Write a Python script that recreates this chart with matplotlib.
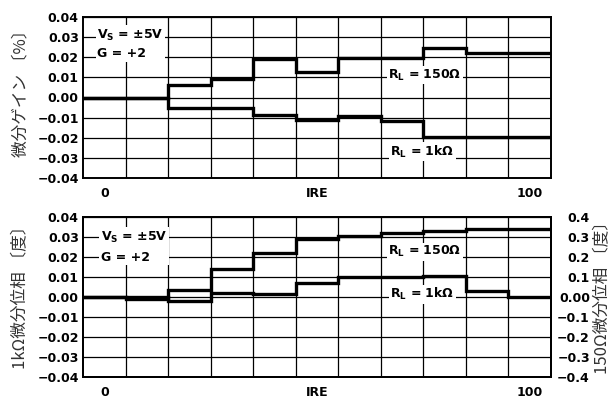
import matplotlib
matplotlib.use("Agg")
import matplotlib.pyplot as plt
from matplotlib.ticker import FixedLocator

# staircase levels (IRE), one step per level
IRE_LEVELS = [0, 10, 20, 30, 40, 50, 60, 70, 80, 90, 100]

# differential gain [%]
GAIN_150 = [0.0, 0.0, 0.0063, 0.009, 0.019, 0.0128, 0.0198, 0.0198, 0.0248, 0.0223, 0.0223]
GAIN_1K = [0.0, 0.0, -0.005, -0.005, -0.0085, -0.011, -0.0092, -0.0115, -0.0195, -0.0197, -0.0197]

# differential phase [deg]: 1kΩ on the left scale, 150Ω on the right scale
PHASE_1K = [0.0, 0.0, -0.002, 0.002, 0.0013, 0.007, 0.0097, 0.0097, 0.0103, 0.003, 0.0]
PHASE_150 = [0.0, -0.01, 0.035, 0.138, 0.217, 0.29, 0.305, 0.32, 0.33, 0.34, 0.34]

LEFT_TICKS = [-0.04, -0.03, -0.02, -0.01, 0.0, 0.01, 0.02, 0.03, 0.04]
LEFT_LABELS = ["−0.04", "−0.03", "−0.02", "−0.01", "0.00", "0.01", "0.02", "0.03", "0.04"]
RIGHT_TICKS = [-0.4, -0.3, -0.2, -0.1, 0.0, 0.1, 0.2, 0.3, 0.4]
RIGHT_LABELS = ["−0.4", "−0.3", "−0.2", "−0.1", "0.00", "0.1", "0.2", "0.3", "0.4"]
X_TICKS = [0, 50, 100]
X_LABELS = ["0", "IRE", "100"]

COND_TEXT = "V$_\\mathbf{S}$ = ±5V\nG = +2"
LABEL_150 = "R$_\\mathbf{L}$ = 150Ω"
LABEL_1K = "R$_\\mathbf{L}$ = 1kΩ"

plt.rcParams["font.family"] = ["DejaVu Sans"]
plt.rcParams["font.weight"] = "bold"
plt.rcParams["mathtext.fontset"] = "dejavusans"

JP = dict(fontfamily=["Noto Sans CJK JP", "DejaVu Sans"], fontsize=12,
          fontweight="normal", color="#333333")
BOX = dict(facecolor="white", edgecolor="none", pad=1.0)

half = (IRE_LEVELS[1] - IRE_LEVELS[0]) / 2
edges = [v - half for v in IRE_LEVELS] + [IRE_LEVELS[-1] + half]


def setup(ax):
    ax.set_xlim(edges[0], edges[-1])
    ax.set_ylim(LEFT_TICKS[0], LEFT_TICKS[-1])
    ax.xaxis.set_minor_locator(FixedLocator(edges[1:-1]))
    ax.set_xticks(X_TICKS, X_LABELS)
    ax.set_yticks(LEFT_TICKS, LEFT_LABELS)
    ax.grid(True, which="minor", axis="x", color="black", lw=0.9)
    ax.grid(True, which="major", axis="y", color="black", lw=0.9)
    ax.tick_params(which="both", length=0, labelsize=9)
    ax.tick_params(axis="x", pad=6.5)
    ax.tick_params(axis="y", pad=3)
    ax.set_axisbelow(True)
    for s in ax.spines.values():
        s.set_linewidth(1.4)


fig = plt.figure(figsize=(6.15, 4.01), dpi=100)
ax_gain = fig.add_axes([83 / 615, 1 - 178 / 401, 468 / 615, 161 / 401])
ax_phase = fig.add_axes([83 / 615, 1 - 376.7 / 401, 468 / 615, 160 / 401])

# differential gain
setup(ax_gain)
ax_gain.stairs(GAIN_150, edges, baseline=None, color="black", lw=2.4)
ax_gain.stairs(GAIN_1K, edges, baseline=None, color="black", lw=2.4)
ax_gain.set_ylabel("微分ゲイン 〔%〕", **JP)
ax_gain.yaxis.set_label_coords(-0.115, 0.55)
ax_gain.text(-1.7, 0.0266, COND_TEXT, ha="left", va="center", fontsize=9,
             linespacing=1.45, bbox=BOX)
ax_gain.text(66.7, 0.0112, LABEL_150, ha="left", va="center", fontsize=9, bbox=BOX)
ax_gain.text(67.2, -0.0269, LABEL_1K, ha="left", va="center", fontsize=9, bbox=BOX)

# differential phase
setup(ax_phase)
ax_phase.stairs(PHASE_1K, edges, baseline=None, color="black", lw=2.4)
ax_phase.set_ylabel("1kΩ微分位相 〔度〕", **JP)
ax_phase.yaxis.set_label_coords(-0.115, 0.52)
ax_phase.text(-0.8, 0.0251, COND_TEXT, ha="left", va="center", fontsize=9,
              linespacing=1.6, bbox=BOX)
ax_phase.text(66.7, 0.0224, LABEL_150, ha="left", va="center", fontsize=9, bbox=BOX)
ax_phase.text(67.2, 0.0013, LABEL_1K, ha="left", va="center", fontsize=9, bbox=BOX)

ax_r = ax_phase.twinx()
ax_r.set_ylim(RIGHT_TICKS[0], RIGHT_TICKS[-1])
ax_r.set_yticks(RIGHT_TICKS, RIGHT_LABELS)
ax_r.tick_params(length=0, labelsize=9, pad=28)
for lab in ax_r.get_yticklabels():
    lab.set_horizontalalignment("right")
for s in ax_r.spines.values():
    s.set_linewidth(1.4)
ax_r.stairs(PHASE_150, edges, baseline=None, color="black", lw=2.4)
ax_r.set_ylabel("150Ω微分位相 〔度〕", **JP)
ax_r.yaxis.set_label_coords(1.092, 0.52)

fig.savefig("out.png", dpi=100)
